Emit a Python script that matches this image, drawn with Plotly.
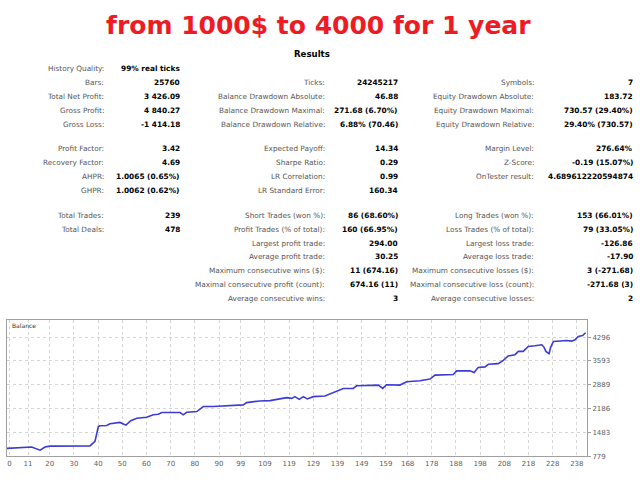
import plotly.graph_objects as go

# ---------------- data ----------------
title_text = "from 1000$ to 4000 for 1 year"
header_text = "Results"

# section A (rows 1..5)
sa_col1_labels = ["History Quality:", "Bars:", "Total Net Profit:", "Gross Profit:", "Gross Loss:"]
sa_col1_values = ["99% real ticks", "25760", "3 426.09", "4 840.27", "-1 414.18"]
sa_col2_labels = ["", "Ticks:", "Balance Drawdown Absolute:", "Balance Drawdown Maximal:", "Balance Drawdown Relative:"]
sa_col2_values = ["", "24245217", "46.88", "271.68 (6.70%)", "6.88% (70.46)"]
sa_col3_labels = ["", "Symbols:", "Equity Drawdown Absolute:", "Equity Drawdown Maximal:", "Equity Drawdown Relative:"]
sa_col3_values = ["", "7", "183.72", "730.57 (29.40%)", "29.40% (730.57)"]

# section B (rows 1..4)
sb_col1_labels = ["Profit Factor:", "Recovery Factor:", "AHPR:", "GHPR:"]
sb_col1_values = ["3.42", "4.69", "1.0065 (0.65%)", "1.0062 (0.62%)"]
sb_col2_labels = ["Expected Payoff:", "Sharpe Ratio:", "LR Correlation:", "LR Standard Error:"]
sb_col2_values = ["14.34", "0.29", "0.99", "160.34"]
sb_col3_labels = ["Margin Level:", "Z-Score:", "OnTester result:", ""]
sb_col3_values = ["276.64%", "-0.19 (15.07%)", "4.689612220594874", ""]

# section C (rows 1..7)
sc_col1_labels = ["Total Trades:", "Total Deals:", "", "", "", "", ""]
sc_col1_values = ["239", "478", "", "", "", "", ""]
sc_col2_labels = ["Short Trades (won %):", "Profit Trades (% of total):", "Largest profit trade:",
                  "Average profit trade:", "Maximum consecutive wins ($):",
                  "Maximal consecutive profit (count):", "Average consecutive wins:"]
sc_col2_values = ["86 (68.60%)", "160 (66.95%)", "294.00", "30.25", "11 (674.16)", "674.16 (11)", "3"]
sc_col3_labels = ["Long Trades (won %):", "Loss Trades (% of total):", "Largest loss trade:",
                  "Average loss trade:", "Maximum consecutive losses ($):",
                  "Maximal consecutive loss (count):", "Average consecutive losses:"]
sc_col3_values = ["153 (66.01%)", "79 (33.05%)", "-126.86", "-17.90", "3 (-271.68)", "-271.68 (3)", "2"]

# balance curve (trade number, balance)
trade_no = [2.3, 12.5, 16.0, 18.0, 20.1, 36.6, 38.7, 40.1, 40.8, 43.5, 44.9, 49.0, 51.5, 53.5,
            56.0, 60.1, 62.8, 64.9, 66.3, 73.9, 75.2, 76.6, 80.8, 83.5, 87.6, 91.8, 100.0,
            101.4, 106.9, 111.1, 118.0, 120.1, 121.4, 123.2, 124.9, 126.5, 129.0, 133.8,
            138.7, 141.4, 145.5, 146.9, 155.9, 157.7, 159.3, 164.8, 167.6, 173.1, 177.3,
            179.3, 186.9, 188.3, 193.8, 195.5, 197.2, 200.0, 201.4, 205.5, 207.6, 209.6,
            212.4, 213.8, 215.8, 217.9, 220.7, 223.5, 224.4, 225.2, 226.5, 227.2, 228.3,
            233.8, 235.9, 237.2, 238.6, 240.4, 241.6]
balance = [1010, 1050, 955, 1050, 1075, 1081, 1219, 1658, 1679, 1687, 1737, 1776, 1697, 1825,
           1902, 1931, 2001, 2019, 2069, 2069, 2001, 2077, 2098, 2245, 2245, 2265, 2294,
           2362, 2411, 2420, 2508, 2488, 2538, 2459, 2538, 2469, 2538, 2558,
           2714, 2781, 2781, 2860, 2880, 2781, 2889, 2880, 2977, 3007, 3056,
           3173, 3192, 3300, 3300, 3250, 3397, 3417, 3495, 3514, 3612, 3739,
           3778, 3876, 3876, 4023, 4043, 4072, 4003, 3876, 3807, 4003, 4170,
           4199, 4179, 4218, 4316, 4345, 4426]

x_tick_labels = ["0", "11", "20", "30", "40", "50", "60", "70", "80", "90", "99", "109", "119",
                 "129", "139", "149", "159", "168", "178", "188", "198", "208", "218", "228", "238"]
y_tick_values = [779, 1483, 2186, 2889, 3593, 4296]

# ---------------- layout helpers ----------------
W, H = 640, 480
X_LO, X_HI = 2.3, 242.2
Y_LO, Y_HI = 779, 4794

def px(x):
    return x / W

def py(y):
    return 1 - y / H

LABEL_FONT = dict(family="DejaVu Sans", size=7.3, color="#555555")
VALUE_FONT = dict(family="DejaVu Sans", size=7.4, color="#000000")

annotations = []

def add_text(text, x, y, font, anchor="right"):
    if not text:
        return
    annotations.append(dict(text=text, x=px(x), y=py(y), xref="paper", yref="paper",
                            xanchor=anchor, yanchor="middle", showarrow=False, font=font))

col_edges = [(106, 182), (327, 400), (536, 635)]
sections = [
    (69, [(sa_col1_labels, sa_col1_values), (sa_col2_labels, sa_col2_values), (sa_col3_labels, sa_col3_values)]),
    (150, [(sb_col1_labels, sb_col1_values), (sb_col2_labels, sb_col2_values), (sb_col3_labels, sb_col3_values)]),
    (217, [(sc_col1_labels, sc_col1_values), (sc_col2_labels, sc_col2_values), (sc_col3_labels, sc_col3_values)]),
]
for y0, cols in sections:
    for (labels, values), (lx, vx) in zip(cols, col_edges):
        for i, (lab, val) in enumerate(zip(labels, values)):
            yy = y0 + i * 14.05
            add_text(lab, lx, yy, LABEL_FONT)
            add_text("<b>" + val + "</b>" if val else "", vx, yy, VALUE_FONT)

add_text("<b>" + title_text + "</b>", 318, 26,
         dict(family="DejaVu Sans", size=25, color="#ED1C24"), anchor="center")
add_text("<b>" + header_text + "</b>", 312, 54,
         dict(family="DejaVu Sans", size=8.6, color="#000000"), anchor="center")
add_text("Balance", 10, 328.5, dict(family="DejaVu Sans", size=6, color="#333333"), anchor="left")

# tick positions (first label sits at the left edge of the plot)
x_tick_vals = [float(t) for t in x_tick_labels]
x_tick_vals[0] = X_LO + 1.0

fig = go.Figure()
fig.add_trace(go.Scatter(x=trade_no, y=balance, mode="lines",
                         line=dict(color="#3c3cd4", width=1.6), hoverinfo="skip"))

AX_FONT = dict(family="DejaVu Sans", size=7, color="#606060")
fig.update_layout(
    width=W, height=H, margin=dict(l=0, r=0, t=0, b=0),
    paper_bgcolor="white", plot_bgcolor="white", showlegend=False,
    annotations=annotations,
    xaxis=dict(domain=[px(7), px(587)], range=[X_LO, X_HI],
               tickvals=x_tick_vals, ticktext=x_tick_labels, tickfont=AX_FONT,
               showgrid=True, gridcolor="#d4d4d4", griddash="dot", gridwidth=1,
               showline=True, mirror=True, linecolor="#a0a0a0", linewidth=1,
               ticks="", zeroline=False),
    yaxis=dict(domain=[1 - 460 / H, 1 - 323 / H], range=[Y_LO, Y_HI], side="right",
               tickvals=y_tick_values, ticktext=[str(v) for v in y_tick_values],
               tickfont=AX_FONT, ticks="outside", ticklen=3, tickcolor="#a0a0a0",
               showgrid=True, gridcolor="#d4d4d4", griddash="dot", gridwidth=1,
               showline=True, mirror=True, linecolor="#a0a0a0", linewidth=1,
               zeroline=False),
)

fig.write_html("out.html", config={"displayModeBar": False},
               post_script="document.body.style.margin='0';document.body.style.overflow='hidden';")
